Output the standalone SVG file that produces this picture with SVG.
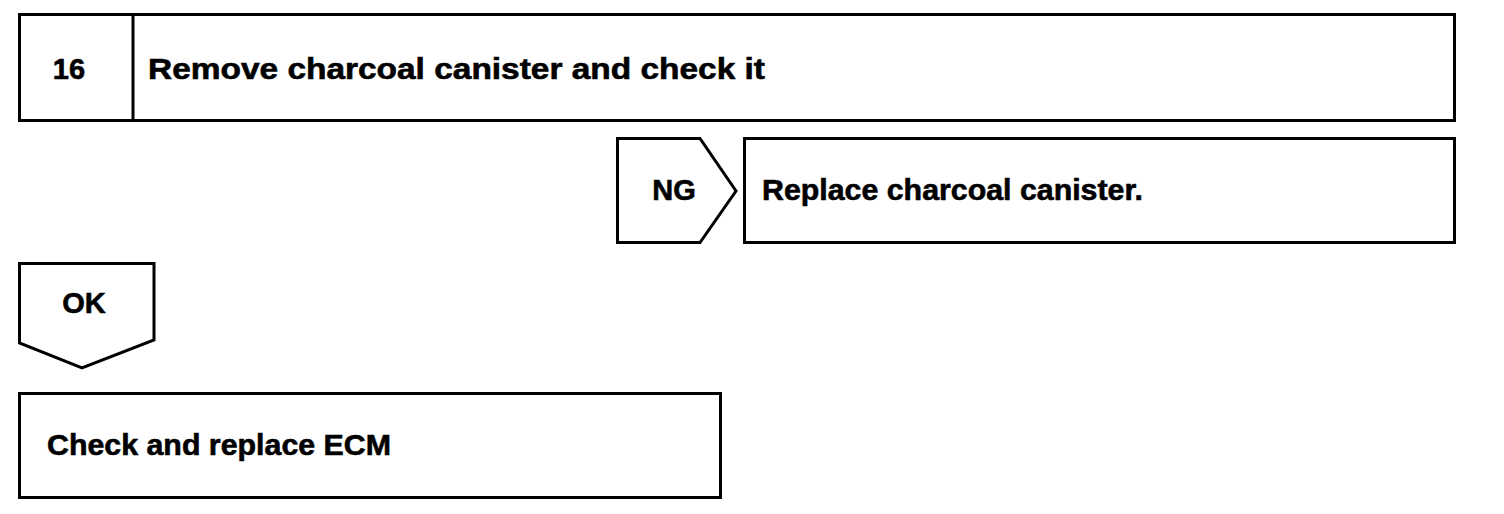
<svg xmlns="http://www.w3.org/2000/svg" width="1504" height="514" viewBox="0 0 1504 514">
<style>
.box{fill:#fff;stroke:#000;stroke-width:3;stroke-linejoin:miter}
.t{font-family:"Liberation Sans",Arial,sans-serif;font-weight:bold;font-size:29px;fill:#000;stroke:#000;stroke-width:0.6}
.c{text-anchor:middle}
</style>
<rect width="1504" height="514" fill="#fff"/>
<g id="step16">
<rect class="box" x="19.5" y="14.5" width="1435" height="106"/>
<line class="box" x1="133" y1="14.5" x2="133" y2="120.5"/>
<text class="t c" x="69" y="79">16</text>
<text class="t" x="148" y="79" textLength="617" lengthAdjust="spacingAndGlyphs">Remove charcoal canister and check it</text>
</g>
<g id="ng">
<polygon class="box" points="617.5,138.5 700,138.5 736,191 700,242.5 617.5,242.5"/>
<text class="t c" x="674" y="200">NG</text>
</g>
<g id="replace">
<rect class="box" x="744.5" y="138.5" width="710" height="104"/>
<text class="t" x="762" y="200" textLength="381" lengthAdjust="spacingAndGlyphs">Replace charcoal canister.</text>
</g>
<g id="ok">
<polygon class="box" points="19.5,263.5 154,263.5 154,340 82,368 19.5,343"/>
<text class="t c" x="84" y="313">OK</text>
</g>
<g id="ecm">
<rect class="box" x="19.5" y="393.5" width="701" height="104"/>
<text class="t" x="47" y="455" textLength="344" lengthAdjust="spacingAndGlyphs">Check and replace ECM</text>
</g>
<g id="connectors"></g>
</svg>
